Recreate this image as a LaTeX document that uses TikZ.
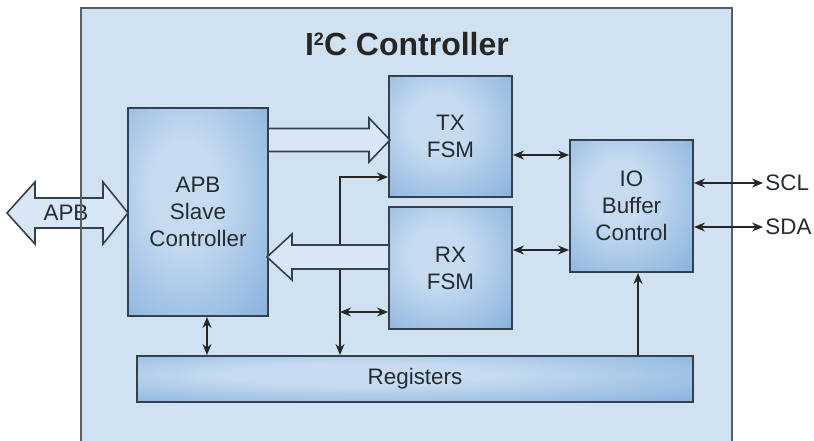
\documentclass[tikz,border=0pt]{standalone}
\usepackage{fontspec}
\setmainfont{Liberation Sans}
\usetikzlibrary{arrows.meta}
\usetikzlibrary{calc}
\definecolor{panelbg}{HTML}{D0E1F2}
\definecolor{boxlight}{HTML}{C6DBF0}
\definecolor{boxdark}{HTML}{5A93D0}
\definecolor{boxline}{HTML}{34404E}
\definecolor{framegray}{HTML}{5A5F66}
\definecolor{labelink}{HTML}{252B33}
\definecolor{busfill}{HTML}{D8E7F6}
\pgfdeclareradialshading{blockshade}{\pgfpoint{-6bp}{6bp}}{color(0bp)=(boxlight); color(12bp)=(boxlight); color(60bp)=(boxdark); color(80bp)=(boxdark)}
\tikzset{block/.style = {draw=boxline, line width=1pt, shading=blockshade,
                         align=center, text=labelink, inner sep=0,
                         font=\fontsize{11.2}{13.5}\selectfont}}
\tikzset{widearrow/.style = {draw=boxline, line width=0.8pt, fill=busfill, line join=miter}}
\tikzset{wire/.style = {line width=0.75pt, draw=black!85}}
\tikzset{portlabel/.style = {text=labelink, inner sep=1pt, font=\fontsize{11.2}{13.5}\selectfont}}

\begin{document}
\begin{tikzpicture}[x=0.5pt, y=-0.5pt, >={Stealth[length=5.5pt,width=4.5pt]}]
      \useasboundingbox (0,0) rectangle (814,440);
      \fill [panelbg] (81,8) rectangle (732,446);
      \draw [widearrow] (128,213) -- ++(-25,-31) -- ++(0,16) -- ++(-68,0) -- ++(0,-16) -- ++(-28,31)
            -- ++(28,31) -- ++(0,-16) -- ++(68,0) -- ++(0,16) -- cycle;
      \node [portlabel] (bus) at (66,213) {APB};
      \draw [framegray, line width=0.75pt] (81,8) rectangle (732,446);
      \node [font=\fontsize{16}{19}\bfseries\selectfont, text=black!85] (title) at (407,44)
            {I\raisebox{5pt}{\fontsize{9}{9}\selectfont 2}C Controller};
      \node [block, minimum width=70pt, minimum height=104pt] (apb) at (198,212) {APB\\Slave\\Controller};
      \node [block, minimum width=61.5pt, minimum height=60.5pt] (tx) at (450.5,136.5) {TX\\FSM};
      \node [block, minimum width=61.5pt, minimum height=61pt] (rx) at (450.5,268) {RX\\FSM};
      \node [block, minimum width=61.5pt, minimum height=66pt] (io) at (631.5,206) {IO\\Buffer\\Control};
      \node [block, minimum width=278pt, minimum height=23pt] (reg) at (415,379) {Registers};
      \coordinate (tap) at (340,177);
      \coordinate (tapb) at (340,312);
      \draw [wire, <->] (tap -| tx.west) -- (tap) -- (tap |- reg.north);
      \draw [wire, <->] (tapb) -- (tapb -| rx.west);
      \draw [wire, <->] ([xshift=4.5pt]apb.south) coordinate (a1) -- (a1 |- reg.north);
      \draw [wire, <->] ([yshift=-9.25pt]tx.east) coordinate (t1) -- (t1 -| io.west);
      \draw [wire, <->] ([yshift=9pt]rx.east) coordinate (r1) -- (r1 -| io.west);
      \draw [wire, ->] ([xshift=111.5pt]reg.north) coordinate (g1) -- (g1 |- io.south);
      \draw [widearrow] (apb.east |- tx.west) ++(0,-8) -- ++(100,0) -- ++(0,-10.5) -- ++(21,22)
            -- ++(-21,22) -- ++(0,-10.5) -- ++(-100,0);
      \draw [widearrow] (rx.west) ++(0,-23) -- ++(-96,0) -- ++(0,-11) -- ++(-25,23)
            -- ++(25,23) -- ++(0,-11) -- ++(96,0);
      \node [portlabel, anchor=west] (scl) at (763,183) {SCL};
      \node [portlabel, anchor=west] (sda) at (763,227) {SDA};
      \draw [wire, <->] (scl.west -| io.east) -- (scl.west);
      \draw [wire, <->] (sda.west -| io.east) -- (sda.west);
\end{tikzpicture}
\end{document}
